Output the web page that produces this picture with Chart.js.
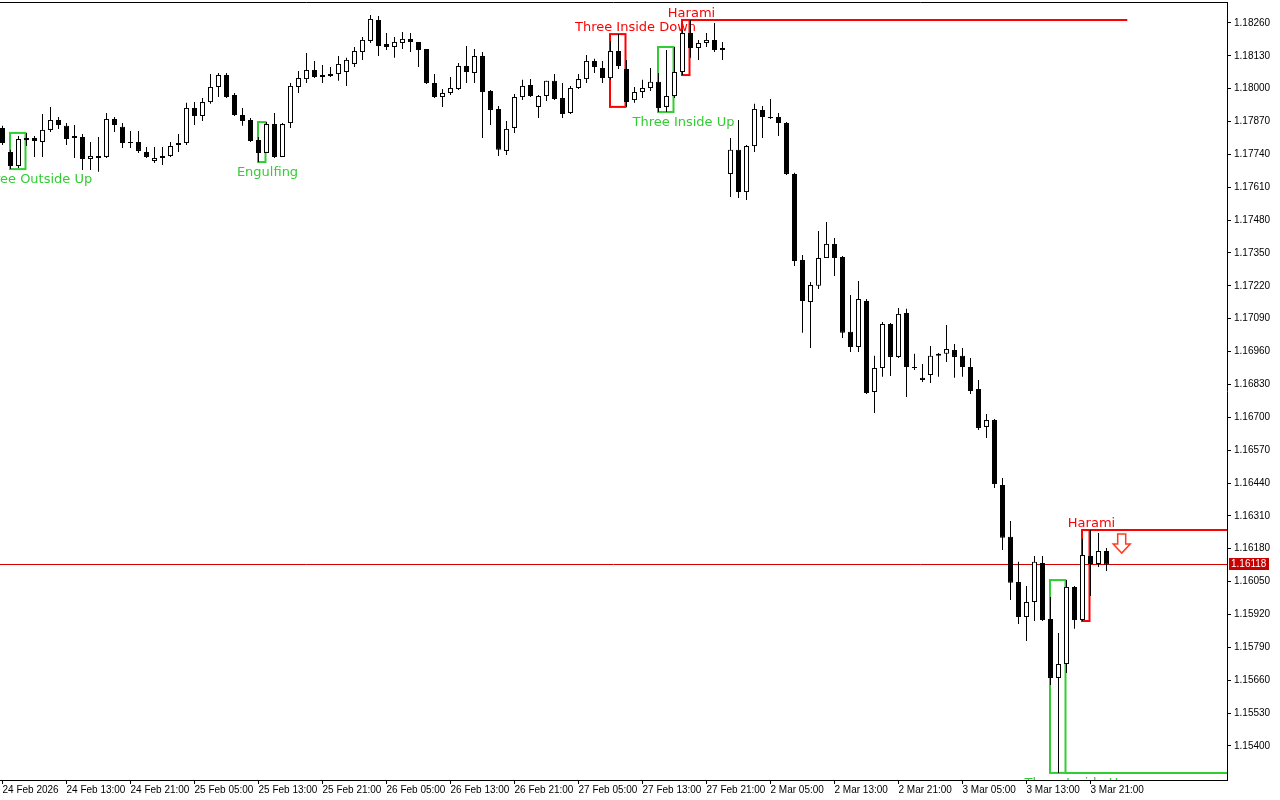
<!DOCTYPE html>
<html>
<head>
<meta charset="utf-8">
<script src="https://cdn.jsdelivr.net/npm/chart.js@4.4.1/dist/chart.umd.min.js"></script>
<style>
  html, body { margin: 0; padding: 0; background: #fff; }
  #c { display: block; }
</style>
</head>
<body>
<canvas id="c" width="1280" height="800"></canvas>
<script>
// EURUSD H1, 24 Feb 05:00 .. 3 Mar 23:00 (one candle per hour)
const opens = [
  1.17845,1.17750,1.17694,1.17797,1.17805,1.17789,1.17837,1.17876,1.17853,1.17805,
  1.17809,1.17722,1.17734,1.17730,1.17880,1.17849,1.17789,1.17789,1.17750,1.17714,
  1.17726,1.17734,1.17785,1.17785,1.17924,1.17892,1.17947,1.18007,1.18054,1.17975,
  1.17896,1.17876,1.17797,1.17746,1.17860,1.17730,1.17864,1.18007,1.18038,1.18074,
  1.18046,1.18058,1.18058,1.18066,1.18098,1.18145,1.18189,1.18272,1.18177,1.18165,
  1.18181,1.18197,1.18185,1.18157,1.18023,1.17967,1.17983,1.17999,1.18090,1.18062,
  1.18129,1.17991,1.17920,1.17754,1.17845,1.17967,1.18015,1.17928,1.17971,1.18031,
  1.17963,1.17904,1.18003,1.18038,1.18110,1.18082,1.18042,1.18149,1.18078,1.17955,
  1.17987,1.18003,1.18027,1.17928,1.17971,1.18066,1.18220,1.18161,1.18181,1.18193,
  1.18161,1.17663,1.17758,1.17591,1.17773,1.17916,1.17888,1.17888,1.17864,1.17663,
  1.17322,1.17156,1.17220,1.17330,1.17386,1.17334,1.17038,1.16978,1.17160,1.16800,
  1.16895,1.17069,1.16939,1.17113,1.16899,1.16856,1.16867,1.16943,1.16951,1.16966,
  1.16943,1.16899,1.16812,1.16662,1.16689,1.16432,1.16227,1.16048,1.15910,1.15969,
  1.16124,1.15902,1.15669,1.15724,1.16029,1.15898,1.16151,1.16120,1.16171
];
const highs = [
  1.17853,1.17758,1.17813,1.17825,1.17813,1.17900,1.17928,1.17888,1.17864,1.17856,
  1.17821,1.17789,1.17809,1.17904,1.17888,1.17864,1.17833,1.17833,1.17769,1.17769,
  1.17769,1.17789,1.17821,1.17944,1.17947,1.17963,1.18058,1.18062,1.18062,1.17983,
  1.17924,1.17884,1.17809,1.17868,1.17904,1.17864,1.18023,1.18070,1.18141,1.18110,
  1.18094,1.18086,1.18129,1.18122,1.18165,1.18205,1.18292,1.18288,1.18220,1.18205,
  1.18224,1.18220,1.18185,1.18157,1.18058,1.17999,1.18046,1.18102,1.18169,1.18157,
  1.18145,1.17995,1.17932,1.17872,1.17979,1.18035,1.18038,1.17975,1.18031,1.18058,
  1.18023,1.18011,1.18058,1.18133,1.18118,1.18110,1.18189,1.18216,1.18114,1.18007,
  1.18035,1.18082,1.18062,1.18153,1.18165,1.18232,1.18272,1.18193,1.18220,1.18260,
  1.18185,1.17805,1.17876,1.17777,1.17940,1.17932,1.17959,1.17904,1.17868,1.17667,
  1.17342,1.17235,1.17437,1.17473,1.17409,1.17338,1.17184,1.17239,1.17168,1.16943,
  1.17077,1.17073,1.17132,1.17129,1.16951,1.16911,1.16982,1.16954,1.17065,1.16990,
  1.16974,1.16935,1.16848,1.16713,1.16693,1.16460,1.16290,1.16128,1.16033,1.16151,
  1.16151,1.15989,1.15847,1.16056,1.16033,1.16219,1.16254,1.16242,1.16183
];
const lows = [
  1.17777,1.17682,1.17686,1.17773,1.17730,1.17730,1.17829,1.17841,1.17777,1.17726,
  1.17678,1.17678,1.17671,1.17726,1.17829,1.17765,1.17765,1.17746,1.17726,1.17706,
  1.17698,1.17730,1.17750,1.17777,1.17856,1.17872,1.17940,1.17967,1.17963,1.17892,
  1.17853,1.17789,1.17710,1.17746,1.17726,1.17730,1.17845,1.17983,1.18023,1.18042,
  1.18023,1.18046,1.18031,1.18011,1.18086,1.18114,1.18181,1.18129,1.18153,1.18122,
  1.18157,1.18145,1.18086,1.18019,1.17963,1.17928,1.17975,1.17995,1.18023,1.18023,
  1.17805,1.17856,1.17734,1.17738,1.17825,1.17955,1.17967,1.17884,1.17951,1.17955,
  1.17884,1.17900,1.17999,1.18023,1.18062,1.18023,1.18035,1.18078,1.17928,1.17944,
  1.17963,1.17991,1.17908,1.17908,1.17963,1.18054,1.18122,1.18114,1.18165,1.18145,
  1.18114,1.17572,1.17568,1.17560,1.17750,1.17805,1.17880,1.17813,1.17659,1.17299,
  1.17034,1.16974,1.17208,1.17330,1.17259,1.17014,1.16958,1.16958,1.16792,1.16717,
  1.16860,1.16863,1.16935,1.16780,1.16887,1.16840,1.16836,1.16860,1.16919,1.16856,
  1.16860,1.16792,1.16650,1.16618,1.16420,1.16175,1.15977,1.15882,1.15815,1.15894,
  1.15894,1.15641,1.15293,1.15688,1.15863,1.15894,1.15993,1.16108,1.16092
];
const closes = [
  1.17785,1.17694,1.17801,1.17805,1.17793,1.17837,1.17876,1.17856,1.17801,1.17813,
  1.17722,1.17734,1.17726,1.17880,1.17856,1.17785,1.17785,1.17754,1.17730,1.17726,
  1.17734,1.17773,1.17777,1.17924,1.17892,1.17947,1.18007,1.18054,1.17967,1.17896,
  1.17872,1.17793,1.17746,1.17860,1.17730,1.17860,1.18011,1.18042,1.18074,1.18046,
  1.18054,1.18050,1.18098,1.18114,1.18149,1.18193,1.18276,1.18169,1.18165,1.18185,
  1.18197,1.18185,1.18153,1.18023,1.17967,1.17983,1.18003,1.18090,1.18066,1.18129,
  1.17987,1.17916,1.17758,1.17841,1.17967,1.18011,1.17971,1.17971,1.18031,1.17959,
  1.17900,1.18003,1.18038,1.18110,1.18086,1.18042,1.18149,1.18090,1.17947,1.17987,
  1.18003,1.18027,1.17924,1.17971,1.18066,1.18220,1.18161,1.18181,1.18193,1.18153,
  1.18153,1.17758,1.17591,1.17773,1.17920,1.17888,1.17884,1.17864,1.17663,1.17318,
  1.17160,1.17223,1.17330,1.17386,1.17330,1.17034,1.16978,1.17168,1.16796,1.16895,
  1.17069,1.16939,1.17109,1.16899,1.16895,1.16848,1.16943,1.16951,1.16970,1.16939,
  1.16899,1.16804,1.16658,1.16689,1.16436,1.16223,1.16045,1.15910,1.15969,1.16128,
  1.15898,1.15669,1.15724,1.16029,1.15898,1.16155,1.16120,1.16171,1.16118
];

// one time label every 8 candles
const timeLabels = [
  '24 Feb 2026', '24 Feb 13:00', '24 Feb 21:00', '25 Feb 05:00', '25 Feb 13:00',
  '25 Feb 21:00', '26 Feb 05:00', '26 Feb 13:00', '26 Feb 21:00', '27 Feb 05:00',
  '27 Feb 13:00', '27 Feb 21:00', '2 Mar 05:00', '2 Mar 13:00', '2 Mar 21:00',
  '3 Mar 05:00', '3 Mar 13:00', '3 Mar 21:00'
];
const priceLabels = [
  '1.15400', '1.15530', '1.15660', '1.15790', '1.15920', '1.16050', '1.16180',
  '1.16310', '1.16440', '1.16570', '1.16700', '1.16830', '1.16960', '1.17090',
  '1.17220', '1.17350', '1.17480', '1.17610', '1.17740', '1.17870', '1.18000',
  '1.18130', '1.18260'
];

// candle patterns found by the indicator (candle index range)
const patterns = [
  { name: 'Three Outside Up', from: 1, to: 3, bullish: true },
  { name: 'Engulfing', from: 32, to: 33, bullish: true },
  { name: 'Three Inside Down', from: 76, to: 78, bullish: false },
  { name: 'Three Inside Up', from: 82, to: 84, bullish: true },
  { name: 'Harami', from: 85, to: 86, bullish: false, extendTo: 140.6 },
  { name: 'Three Inside Up', from: 131, to: 133, bullish: true, extendTo: 170 },
  { name: 'Harami', from: 135, to: 136, bullish: false, extendTo: 170 }
];
const signalArrow = { at: 139.9, price: 1.16238 };

const AXIS_FONT = { family: 'Liberation Sans', size: 10 };
const GREEN = '#32cd32', RED = '#ff0000';

const bodies = opens.map((o, i) => ({ x: i, y: [o, closes[i]] }));
const wicks = opens.map((o, i) => ({ x: i, y: [lows[i], highs[i]] }));
const bodyColors = opens.map((o, i) => closes[i] >= o ? '#ffffff' : '#000000');

const overlay = {
  id: 'overlay',
  beforeDatasetsDraw(chart) {
    const { ctx, chartArea: a, scales: { x, y } } = chart;
    ctx.save();
    ctx.beginPath();
    ctx.rect(a.left, a.top, a.right - a.left, a.bottom - a.top);
    ctx.clip();

    // last price line
    const py = Math.round(y.getPixelForValue(closes[closes.length - 1])) + 0.5;
    ctx.strokeStyle = '#d40000';
    ctx.lineWidth = 1;
    ctx.beginPath();
    ctx.moveTo(a.left, py);
    ctx.lineTo(a.right, py);
    ctx.stroke();

    // pattern boxes + names
    ctx.lineWidth = 2;
    ctx.font = '13px "DejaVu Sans"';
    ctx.textAlign = 'center';
    ctx.textBaseline = 'middle';
    patterns.forEach(p => {
      const hi = Math.max(...highs.slice(p.from, p.to + 1));
      const lo = Math.min(...lows.slice(p.from, p.to + 1));
      const x0 = x.getPixelForValue(p.from) - 0.5;
      const x1 = x.getPixelForValue(p.to) - 1;
      const yt = y.getPixelForValue(hi);
      const yb = y.getPixelForValue(lo);
      const col = p.bullish ? GREEN : RED;
      ctx.strokeStyle = col;
      ctx.strokeRect(x0, yt, x1 - x0, yb - yt);
      if (p.extendTo) {
        const ey = p.bullish ? yb : yt;
        ctx.beginPath();
        ctx.moveTo(x1, ey);
        ctx.lineTo(x.getPixelForValue(p.extendTo), ey);
        ctx.stroke();
      }
      ctx.fillStyle = col;
      const n = p.to - p.from + 1;
      ctx.fillText(p.name, x1 + (n === 3 ? 10 : 2), p.bullish ? yb + 10.5 : yt - 6);
    });
    ctx.restore();
  },
  afterDatasetsDraw(chart) {
    const { ctx, chartArea: a, scales: { x, y } } = chart;
    // hollow sell arrow
    const ax = x.getPixelForValue(signalArrow.at);
    const ay = y.getPixelForValue(signalArrow.price);
    ctx.save();
    ctx.beginPath();
    ctx.moveTo(ax - 4, ay);
    ctx.lineTo(ax + 4, ay);
    ctx.lineTo(ax + 4, ay + 10);
    ctx.lineTo(ax + 8.5, ay + 10);
    ctx.lineTo(ax, ay + 19);
    ctx.lineTo(ax - 8.5, ay + 10);
    ctx.lineTo(ax - 4, ay + 10);
    ctx.closePath();
    ctx.fillStyle = '#fff';
    ctx.fill();
    ctx.strokeStyle = '#ff3b1f';
    ctx.lineWidth = 1.5;
    ctx.stroke();

    // frame top
    ctx.strokeStyle = '#000';
    ctx.lineWidth = 1;
    ctx.beginPath();
    ctx.moveTo(a.left, a.top + 0.5);
    ctx.lineTo(a.right, a.top + 0.5);
    ctx.stroke();
    ctx.restore();
  },
  afterDraw(chart) {
    const { ctx, chartArea: a, scales: { y } } = chart;
    const last = closes[closes.length - 1];
    const py = Math.round(y.getPixelForValue(last));
    ctx.save();
    ctx.fillStyle = '#c80000';
    ctx.fillRect(a.right + 2, py - 6, 40, 12);
    ctx.fillStyle = '#fff';
    ctx.font = AXIS_FONT.size + 'px "' + AXIS_FONT.family + '"';
    ctx.textAlign = 'left';
    ctx.textBaseline = 'middle';
    ctx.fillText(last.toFixed(5), a.right + 4, py + 0.5);
    ctx.restore();
  }
};

new Chart(document.getElementById('c'), {
  type: 'bar',
  data: {
    datasets: [
      {
        label: 'body', data: bodies, order: 0, grouped: false,
        barThickness: 5, backgroundColor: bodyColors, borderColor: '#000',
        borderWidth: 1, borderSkipped: false, inflateAmount: 0
      },
      {
        label: 'wick', data: wicks, order: 1, grouped: false,
        barThickness: 1, backgroundColor: '#000', borderWidth: 0, inflateAmount: 0
      }
    ]
  },
  options: {
    responsive: false,
    animation: false,
    devicePixelRatio: 1,
    events: [],
    layout: { padding: { top: 2, left: 0, right: 0, bottom: 0 } },
    plugins: { legend: { display: false }, tooltip: { enabled: false } },
    scales: {
      x: {
        type: 'linear',
        offset: false,
        min: -0.3125,
        max: 153.0625,
        grid: { offset: false, drawOnChartArea: false, drawTicks: true, tickLength: 4, color: '#000' },
        border: { display: true, color: '#000' },
        ticks: {
          font: AXIS_FONT, color: '#000', padding: 0, align: 'start',
          maxRotation: 0, autoSkip: false,
          callback: (v, i) => timeLabels[i]
        },
        afterBuildTicks: s => { s.ticks = timeLabels.map((t, i) => ({ value: i * 8 })); },
        afterFit: s => { s.height = 20; s.paddingLeft = 0; s.paddingRight = 0; }
      },
      y: {
        type: 'linear',
        position: 'right',
        min: 1.15265,
        max: 1.18343,
        grid: { drawOnChartArea: false, drawTicks: true, tickLength: 4, color: '#000' },
        border: { display: true, color: '#000' },
        ticks: {
          font: AXIS_FONT, color: '#000', padding: 3,
          callback: (v, i) => priceLabels[i]
        },
        afterBuildTicks: s => { s.ticks = priceLabels.map(t => ({ value: parseFloat(t) })); },
        afterFit: s => { s.width = 53; s.paddingTop = 0; s.paddingBottom = 0; }
      }
    }
  },
  plugins: [overlay]
});
</script>
</body>
</html>
